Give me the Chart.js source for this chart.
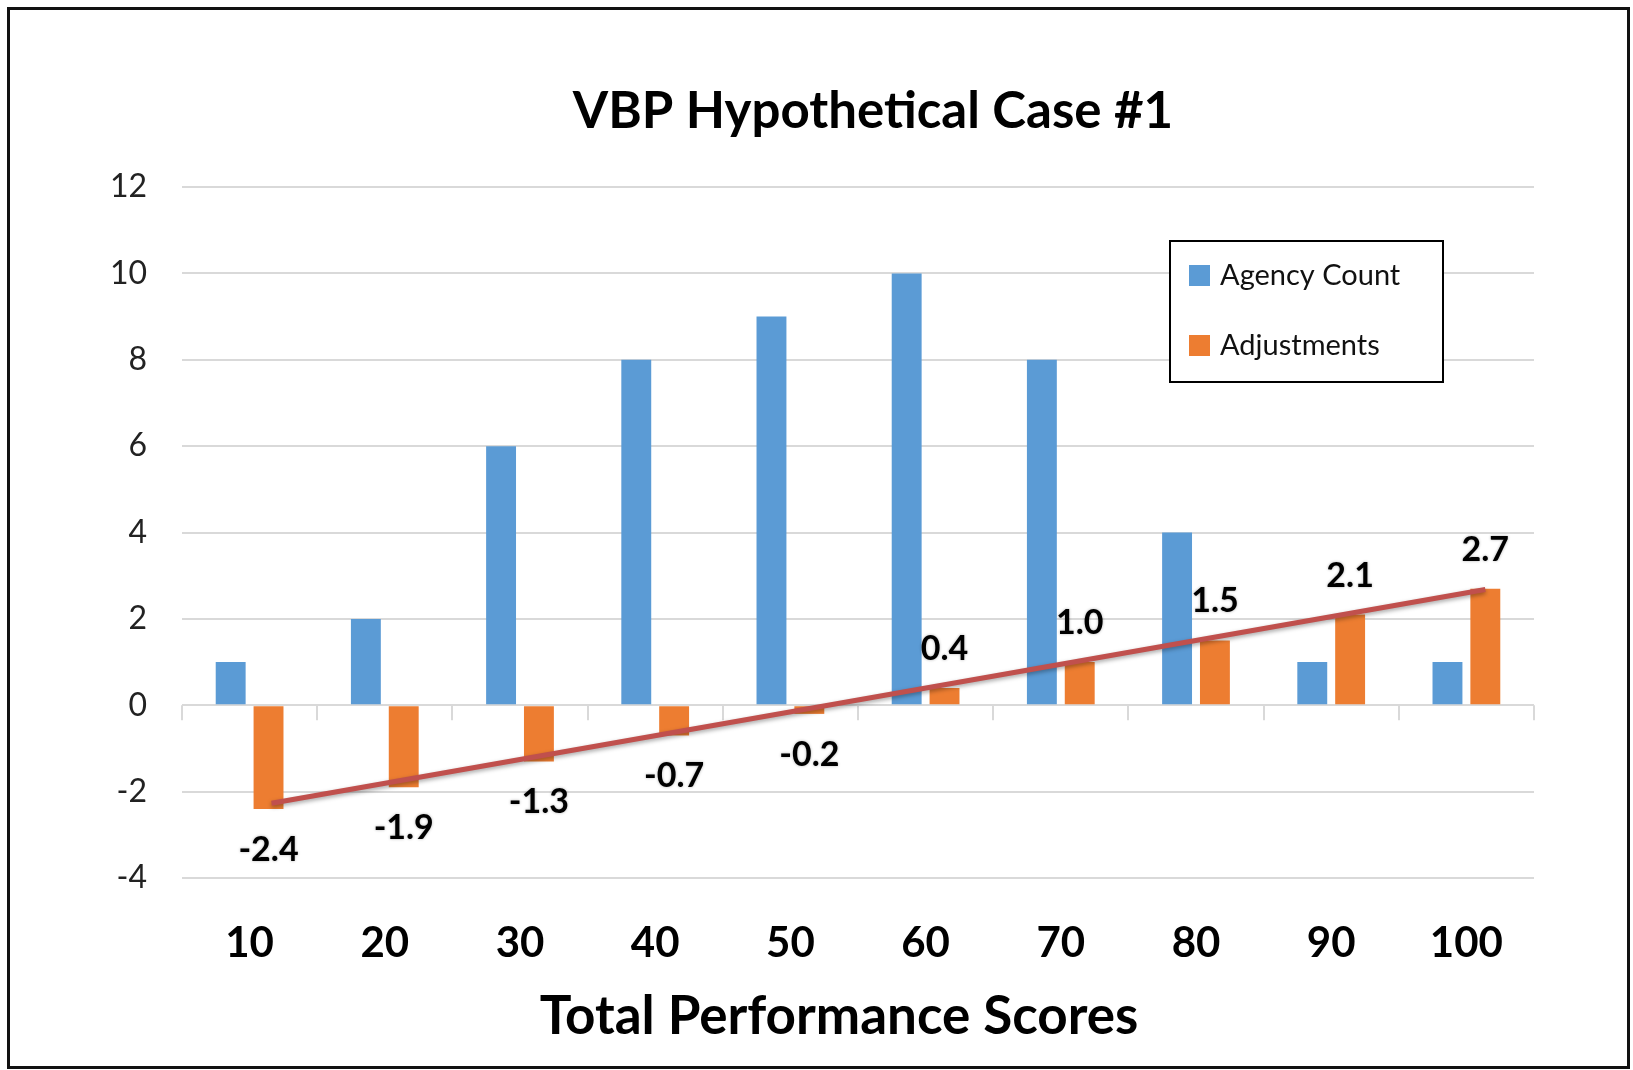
<!DOCTYPE html>
<html>
<head>
<meta charset="utf-8">
<script src="https://cdn.jsdelivr.net/npm/chart.js@4/dist/chart.umd.min.js"></script>
<style>
	body { margin: 0; background: #fff; }
	#frame { position: absolute; left: 7px; top: 7px; width: 1617px; height: 1056px; border: 3px solid #111; }
</style>
</head>
<body>
<div id="frame"><canvas id="myChart" width="1617" height="1056"></canvas></div>
<script>
// chart values
var scoreLabels = ['10', '20', '30', '40', '50', '60', '70', '80', '90', '100'];
var agencyCount = [1, 2, 6, 8, 9, 10, 8, 4, 1, 1];
var adjustments = [-2.4, -1.9, -1.3, -0.7, -0.2, 0.4, 1.0, 1.5, 2.1, 2.7];
// trend line value at first and last category
var trendEnds = [-2.27, 2.68];
var yMin = -4, yMax = 12, yStep = 2;

var seriesNames = ['Agency Count', 'Adjustments'];
var seriesColors = ['#5B9BD5', '#ED7D31'];
var trendColor = '#C0504D';
var fontFamily = 'Lato, "Open Sans", sans-serif';

// title, axis title, legend box, trend line, value labels and the little ticks under the zero line
var decorations = {
	id: 'decorations',
	beforeDatasetsDraw: function(chart) {
		var ctx = chart.ctx;
		var x = chart.scales.x;
		var y = chart.scales.y;
		var zero = y.getPixelForValue(0);
		var step = (x.right - x.left) / scoreLabels.length;
		ctx.save();
		ctx.strokeStyle = '#d9d9d9';
		ctx.lineWidth = 2;
		for (var i = 0; i <= scoreLabels.length; i++) {
			var px = Math.round(x.left + i * step);
			ctx.beginPath();
			ctx.moveTo(px, zero);
			ctx.lineTo(px, zero + 15);
			ctx.stroke();
		}
		ctx.restore();
	},
	afterDatasetsDraw: function(chart) {
		var ctx = chart.ctx;
		var y = chart.scales.y;
		var meta = chart.getDatasetMeta(1);
		var first = meta.data[0];
		var last = meta.data[meta.data.length - 1];

		// trend line through the first and last adjustment bars
		ctx.save();
		ctx.strokeStyle = trendColor;
		ctx.lineWidth = 5;
		ctx.shadowColor = 'rgba(0,0,0,0.35)';
		ctx.shadowBlur = 4;
		ctx.shadowOffsetY = 2;
		ctx.beginPath();
		ctx.moveTo(first.x + 3, y.getPixelForValue(trendEnds[0]));
		ctx.lineTo(last.x, y.getPixelForValue(trendEnds[1]));
		ctx.stroke();
		ctx.restore();

		// value labels for the adjustments
		ctx.save();
		ctx.font = 'bold 34px ' + fontFamily;
		ctx.fillStyle = '#000';
		ctx.textAlign = 'center';
		ctx.textBaseline = 'middle';
		ctx.shadowColor = 'rgba(0,0,0,0.3)';
		ctx.shadowBlur = 3;
		for (var i = 0; i < meta.data.length; i++) {
			var bar = meta.data[i];
			var v = adjustments[i];
			var ly = v >= 0 ? bar.y - 39 : bar.y + 41;
			ctx.fillText(v.toFixed(1), bar.x, ly);
		}
		ctx.restore();
	},
	afterDraw: function(chart) {
		var ctx = chart.ctx;
		ctx.save();
		ctx.fillStyle = '#000';
		ctx.textAlign = 'center';
		ctx.textBaseline = 'middle';
		// chart title
		ctx.font = 'bold 51px ' + fontFamily;
		ctx.fillText('VBP Hypothetical Case #1', 863, 102);
		// x axis title
		ctx.font = 'bold 53px ' + fontFamily;
		ctx.fillText('Total Performance Scores', 829, 1007);

		// legend box inside the plot
		ctx.fillStyle = '#fff';
		ctx.fillRect(1160, 231, 273, 141);
		ctx.strokeStyle = '#000';
		ctx.lineWidth = 2;
		ctx.strokeRect(1160, 231, 273, 141);
		ctx.font = '29px ' + fontFamily;
		ctx.textAlign = 'left';
		for (var i = 0; i < seriesNames.length; i++) {
			var rowY = 265 + i * 70;
			ctx.fillStyle = seriesColors[i];
			ctx.fillRect(1179, rowY - 10, 21, 21);
			ctx.fillStyle = '#111';
			ctx.fillText(seriesNames[i], 1210, rowY + 1);
		}
		ctx.restore();
	}
};

var ctx = document.getElementById('myChart');
var myChart = new Chart(ctx, {
	type: 'bar',
	data: {
		labels: scoreLabels,
		datasets: [{
			label: seriesNames[0],
			data: agencyCount,
			backgroundColor: seriesColors[0]
		}, {
			label: seriesNames[1],
			data: adjustments,
			backgroundColor: seriesColors[1]
		}]
	},
	options: {
		responsive: false,
		animation: false,
		categoryPercentage: 0.56,
		barPercentage: 0.79,
		layout: { padding: { left: 0, right: 93, top: 177, bottom: 0 } },
		plugins: {
			legend: { display: false },
			title: { display: false },
			tooltip: { enabled: false }
		},
		scales: {
			x: {
				// room below the plot for tick labels and the axis title
				afterFit: function(scale) { scale.height = 188; },
				grid: { display: false, drawTicks: false },
				border: { display: false },
				ticks: {
					color: '#000',
					padding: 40,
					font: { family: fontFamily, size: 42, weight: 'bold' }
				}
			},
			y: {
				min: yMin,
				max: yMax,
				afterFit: function(scale) { scale.width = 172; },
				grid: { color: '#d9d9d9', lineWidth: 2, drawTicks: false },
				border: { display: false },
				ticks: {
					stepSize: yStep,
					color: '#222',
					padding: 35,
					font: { family: fontFamily, size: 32 }
				}
			}
		}
	},
	plugins: [decorations]
});
</script>
</body>
</html>
